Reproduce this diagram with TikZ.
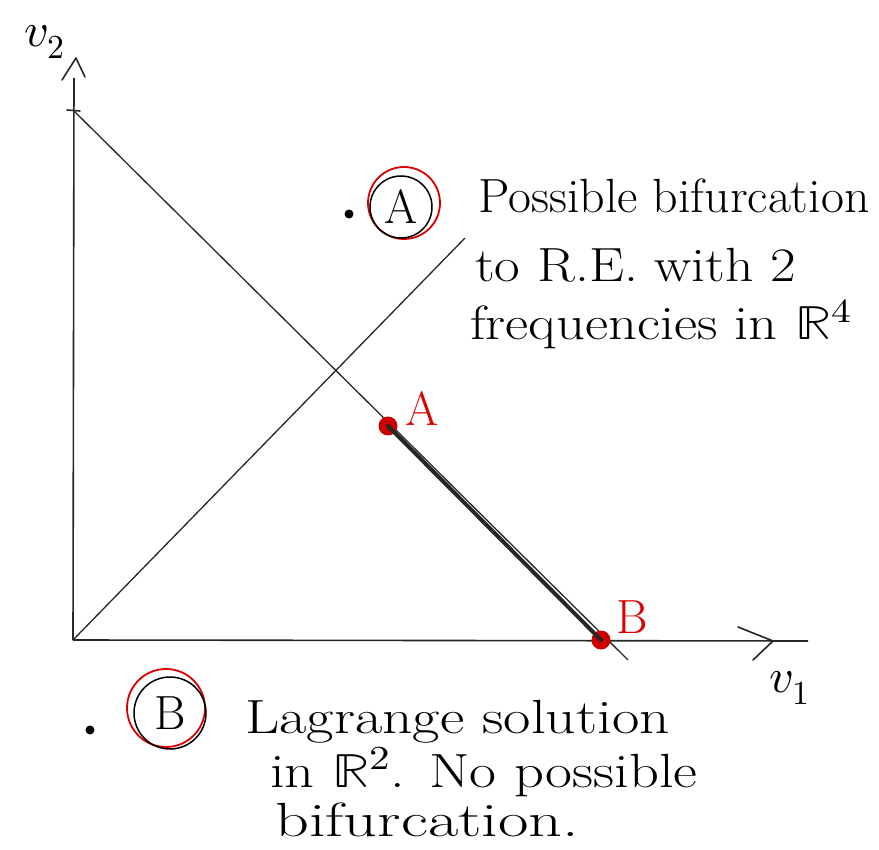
\documentclass[tikz,border=0pt]{standalone}
\usepackage{unicode-math}
\usepackage{graphicx}
\begin{document}
\begin{tikzpicture}[x=1pt,y=-1pt,
  axis/.style={line width=1.6pt,black!85},
  chev/.style={line width=1.6pt,black!85,line cap=round,line join=round},
  thin line/.style={line width=1.3pt,black!85},
  thick seg/.style={line width=4pt,black!85,line cap=round},
  reddot/.style={circle,fill=red!80!black,inner sep=0pt,minimum size=19pt},
  redlabel/.style={text=red!85!black,font=\fontsize{48}{52}\selectfont,inner sep=0pt},
  note/.style={anchor=base west,font=\fontsize{48}{52}\selectfont,inner sep=0pt},
  axlabel/.style={font=\fontsize{48}{54}\selectfont,inner sep=0pt},
  redring/.style={circle,draw=red!85!black,line width=1.8pt,inner sep=0pt},
  blackring/.style={circle,draw=black,line width=1.5pt,inner sep=0pt,font=\fontsize{48}{52}\selectfont},
  blackdot/.style={circle,fill=black,inner sep=0pt,minimum size=9pt}]
\useasboundingbox (0,0) rectangle (879,850);
\coordinate (O) at (73,640);
\coordinate (Ytop) at (74,78);
\coordinate (Xend) at (808,641);
\coordinate (T) at (73,110);
\coordinate (Dend) at (628,660);
\coordinate (Lend) at (465,238);
% axes
\draw[axis] (O) -- (Ytop);
\draw[axis] (O) -- (Xend);
\coordinate (ya1) at (62,80); \coordinate (ytip) at (76,58); \coordinate (ya2) at (85,77);
\draw[chev] (ya1) -- (ytip) -- (ya2);
\coordinate (xa1) at (738,627); \coordinate (xtip) at (773,641); \coordinate (xa2) at (753,660);
\draw[chev] (xa1) -- (xtip) -- (xa2);
% tick on v2
\coordinate (tk1) at (67,110); \coordinate (tk2) at (80,111);
\draw[chev] (tk1) -- (tk2);
% lines
\draw[thin line] (T) -- (Dend);
\draw[thin line] (O) -- (Lend);
% points
\node[reddot] (A) at (388,426) {};
\node[reddot] (B) at (601,640) {};
\draw[thick seg] (A.center) -- (B.center);
\node[redlabel] (Alab) at (422,409) {A};
\node[redlabel] (Blab) at (632,617) {B};
% axis labels
\node[axlabel] (v2) at (45,42) {$v_2$};
\node[axlabel] (v1) at (790,688) {$v_1$};
% note A
\node[blackdot] (dA) at (349,214) {};
\node[redring,minimum size=72pt] (cAr) at (404,203) {};
\node[blackring,minimum size=62pt] (cA) at (401,207) {A};
\node[note] (noteA1) at (478,213) {\scalebox{1.04}[1]{Possible bifurcation}};
\node[note] (noteA2) at (475,282) {\scalebox{1.16}[1]{to R.E. with 2}};
\node[note] (noteA3) at (470,340) {\scalebox{1.18}[1]{frequencies in $\mathbb{R}^4$}};
% note B
\node[blackdot] (dB) at (90,730) {};
\node[redring,minimum size=78pt] (cBr) at (166,708) {};
\node[blackring,minimum size=72pt] (cB) at (170,713) {B};
\node[note] (noteB1) at (245,733) {\scalebox{1.24}[1]{Lagrange solution}};
\node[note] (noteB2) at (270,787) {\scalebox{1.22}[1]{in $\mathbb{R}^2$. No possible}};
\node[note] (noteB3) at (275,836) {\scalebox{1.38}[1]{bifurcation.}};
\end{tikzpicture}
\end{document}
